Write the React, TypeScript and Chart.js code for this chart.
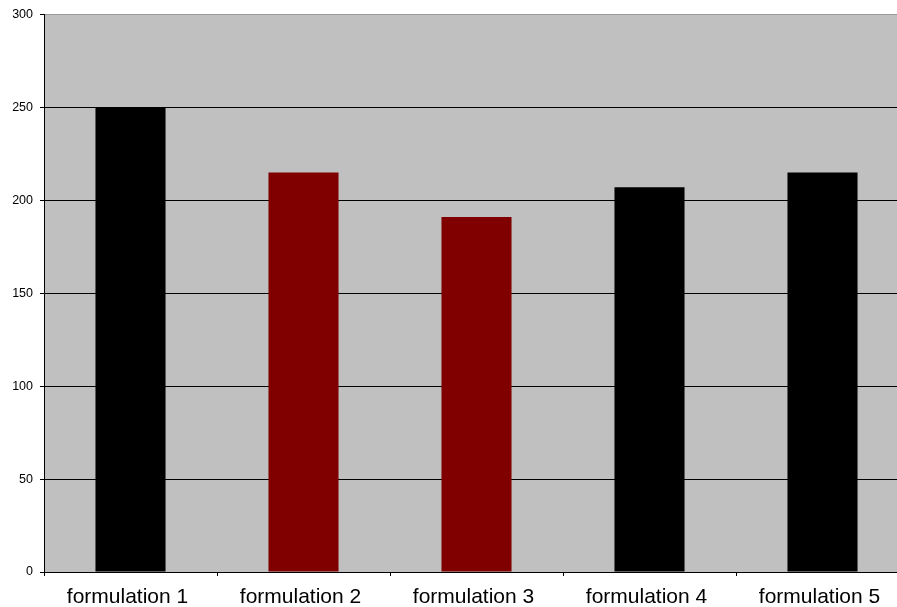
import React, { useEffect, useRef } from "react";
import { Chart, registerables } from "chart.js";

Chart.register(...registerables);

const categories = ["formulation 1", "formulation 2", "formulation 3", "formulation 4", "formulation 5"];
const values = [250, 215, 191, 207, 215];
const barColors = ["#000000", "#800000", "#800000", "#000000", "#000000"];
const yMin = 0;
const yMax = 300;
const yStep = 50;

const plotBg = {
  id: "plotBg",
  beforeDraw(chart: any) {
    const { ctx, chartArea } = chart;
    ctx.save();
    ctx.fillStyle = "#C0C0C0";
    ctx.fillRect(chartArea.left, chartArea.top, chartArea.right - chartArea.left, chartArea.bottom - chartArea.top);
    ctx.restore();
  },
};

export default function App() {
  const ref = useRef<HTMLCanvasElement | null>(null);
  useEffect(() => {
    if (!ref.current) return;
    const chart = new Chart(ref.current, {
      type: "bar",
      data: {
        labels: categories,
        datasets: [
          {
            data: values,
            backgroundColor: barColors,
            borderWidth: 0,
            categoryPercentage: 1,
            barPercentage: 0.405,
          },
        ],
      },
      options: {
        responsive: false,
        animation: false,
        devicePixelRatio: 1,
        layout: { padding: { top: 13, right: 21, left: 0, bottom: 0 } },
        plugins: { legend: { display: false }, tooltip: { enabled: false } },
        scales: {
          x: {
            offset: true,
            grid: {
              offset: true,
              drawOnChartArea: false,
              drawTicks: true,
              tickLength: 4,
              color: "#000000",
            },
            border: { display: true, color: "#000000", width: 1 },
            ticks: {
              color: "#000000",
              font: { family: "'Liberation Sans', Arial, sans-serif", size: 21 },
              padding: 9,
              labelOffset: -3,
              maxRotation: 0,
            },
            afterFit(scale: any) {
              scale.height = 35;
            },
          },
          y: {
            min: yMin,
            max: yMax,
            ticks: {
              stepSize: yStep,
              color: "#000000",
              font: { family: "'Liberation Sans', Arial, sans-serif", size: 12.5 },
              padding: 7,
            },
            grid: {
              color: (c: any) => (c.tick && c.tick.value === yMax ? "#999999" : "#000000"),
              tickColor: "#000000",
              drawTicks: true,
              tickLength: 4,
              lineWidth: 1,
            },
            border: { display: true, color: "#000000", width: 1 },
            afterFit(scale: any) {
              scale.width = 44;
            },
          },
        },
      },
      plugins: [plotBg],
    });
    return () => chart.destroy();
  }, []);
  return (
    <div style={{ position: "fixed", left: 0, top: 0, width: 897, height: 607, overflow: "hidden", background: "#ffffff" }}>
      <canvas ref={ref} width={930} height={607} style={{ display: "block" }} />
    </div>
  );
}
